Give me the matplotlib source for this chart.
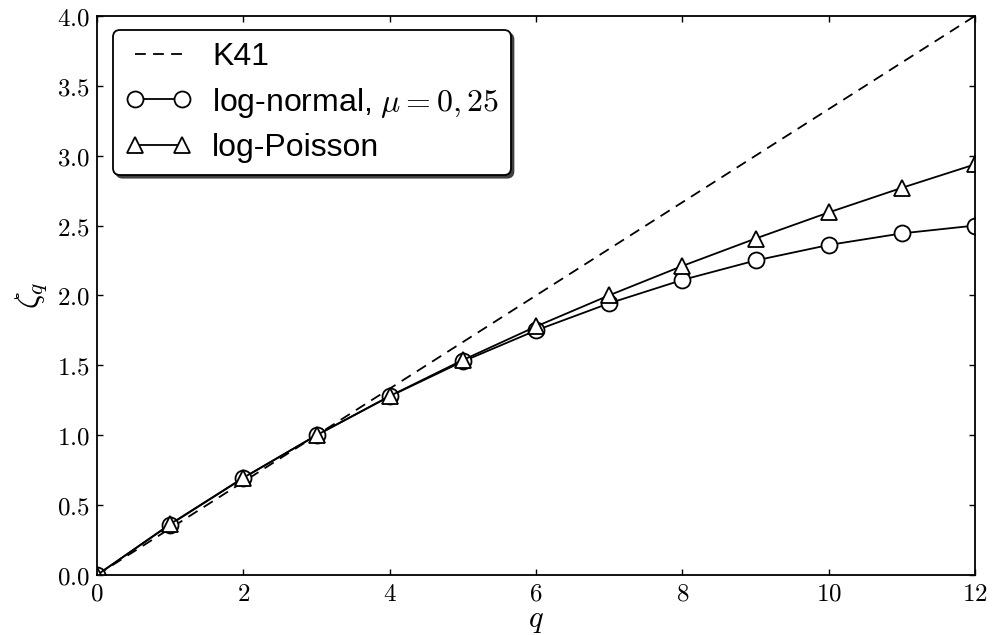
import matplotlib
matplotlib.use("Agg")
import matplotlib.pyplot as plt

q = [0, 1, 2, 3, 4, 5, 6, 7, 8, 9, 10, 11, 12]
k41 = [0.0, 0.3333, 0.6667, 1.0, 1.3333, 1.6667, 2.0, 2.3333, 2.6667, 3.0, 3.3333, 3.6667, 4.0]
lognormal = [0.0, 0.361, 0.694, 1.0, 1.278, 1.528, 1.75, 1.944, 2.111, 2.25, 2.361, 2.444, 2.5]
logpoisson = [0.0, 0.364, 0.696, 1.0, 1.280, 1.538, 1.778, 2.001, 2.211, 2.407, 2.594, 2.770, 2.938]
xticks = [0, 2, 4, 6, 8, 10, 12]
yticks = [0.0, 0.5, 1.0, 1.5, 2.0, 2.5, 3.0, 3.5, 4.0]

plt.rcParams['mathtext.fontset'] = 'cm'
plt.rcParams['font.family'] = ['Liberation Sans', 'DejaVu Sans']

fig = plt.figure(figsize=(9.92, 6.35), dpi=100)
ax = fig.add_axes([0.0978, 0.0945, 0.8852, 0.8805])

lw = 1.3
ax.plot(q, k41, '--', color='black', lw=lw, dashes=(6, 4), label='K41')
ax.plot(q, lognormal, '-', color='black', lw=lw, marker='o', ms=11.5, mfc='white', mec='black', mew=1.3,
        label=r'log-normal, $\mu = 0, 25$')
ax.plot(q, logpoisson, '-', color='black', lw=lw, marker='^', ms=11.5, mfc='white', mec='black', mew=1.3,
        label='log-Poisson')

ax.set_xlim(0, 12)
ax.set_ylim(0, 4)
ax.set_xticks(xticks)
ax.set_yticks(yticks)
ax.set_xticklabels([r'$%d$' % t for t in xticks])
ax.set_yticklabels([r'$%.1f$' % t for t in yticks])
ax.tick_params(direction='in', top=True, right=True, length=4.5, width=1, labelsize=18, pad=5)
for s in ax.spines.values():
    s.set_linewidth(1.3)

ax.set_xlabel(r'$q$', fontsize=22, labelpad=-1)
ax.set_ylabel(r'$\zeta_q$', fontsize=24, labelpad=6)

leg = ax.legend(loc='upper left', numpoints=2, fontsize=23, shadow={'color': '0.25', 'alpha': 1.0},
                fancybox=True, framealpha=1, edgecolor='black', borderpad=0.36, handlelength=2.07,
                bbox_to_anchor=(0.006, 0.994), labelspacing=0.43, handletextpad=0.66, borderaxespad=0.35)
leg.get_frame().set_linewidth(1.3)

fig.savefig('out.png', dpi=100)
